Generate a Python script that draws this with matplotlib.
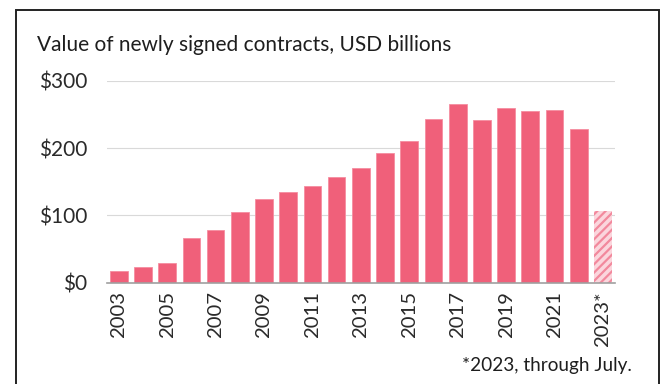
import matplotlib as mpl
import matplotlib.pyplot as plt
from matplotlib.patches import Rectangle

mpl.use("Agg")
plt.rcParams['font.family'] = ['Lato', 'DejaVu Sans']
plt.rcParams['hatch.linewidth'] = 1.6

# data
years = list(range(2003, 2024))
values = [18, 24, 30, 66, 78, 105, 125, 135, 143, 157, 170, 192, 210,
          243, 265, 241, 259, 255, 257, 229, 107]
tick_labels = [str(y) if y < 2023 else "2023*" for y in years[::2]]
y_ticks = [0, 100, 200, 300]
y_labels = ["$0", "$100", "$200", "$300"]

bar_color = "#F0607A"
text_color = "#2A2A2A"

fig = plt.figure(figsize=(6.62, 3.84), dpi=100)
ax = fig.add_axes([106.7 / 662, 1 - 282.7 / 384, (615 - 106.7) / 662, (282.7 - 80.7) / 384])

x = list(range(len(years)))
ax.bar(x[:-1], values[:-1], width=0.73, color=bar_color,
       edgecolor="#F58DA0", linewidth=0.6, zorder=3)
# partial year, hatched
ax.bar(x[-1], values[-1], width=0.73, color="#FBD6DD", edgecolor="#F2899D",
       hatch="////", linewidth=0, zorder=3)

ax.set_xlim(-0.5, len(years) - 0.5)
ax.set_ylim(0, 300)
ax.set_yticks(y_ticks)
ax.set_yticklabels(y_labels)
ax.set_xticks(x[::2])
ax.set_xticklabels(tick_labels, rotation=90)
ax.tick_params(axis="y", length=0, pad=14, labelsize=15, labelcolor=text_color)
ax.tick_params(axis="x", length=0, pad=6, labelsize=14.6, labelcolor=text_color)
ax.grid(axis="y", color="#D9D9D9", linewidth=0.8, zorder=0)
for side in ["top", "right", "left"]:
    ax.spines[side].set_visible(False)
ax.spines["bottom"].set_color("#A0A0A0")
ax.spines["bottom"].set_linewidth(1.2)
ax.spines["bottom"].set_zorder(4)

fig.text(37 / 662, 1 - 45 / 384, "Value of newly signed contracts, USD billions",
         fontsize=15, color="#1E1E1E", va="center", ha="left")
fig.text(632 / 662, 1 - 365 / 384, "*2023, through July.",
         fontsize=13.7, color="#1E1E1E", va="center", ha="right")

# frame box around the chart
fig.patches.append(Rectangle((15.5 / 662, -0.1), (659 - 15.5) / 662, 1.1 - 10.5 / 384,
                             transform=fig.transFigure, fill=False,
                             edgecolor="#222222", linewidth=1.4))

plt.savefig("out.png", dpi=100)
